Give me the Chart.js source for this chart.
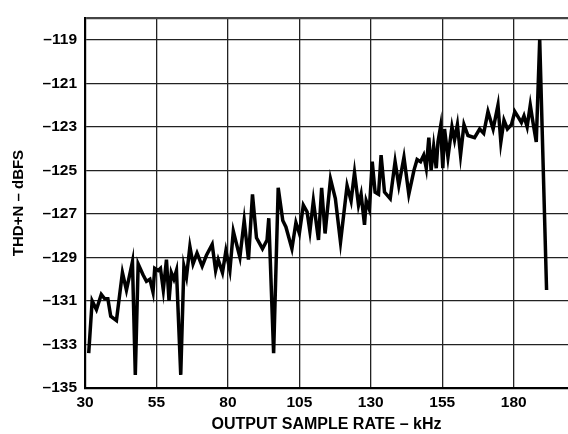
<!DOCTYPE html>
<html>
<head>
<meta charset="utf-8">
<script src="https://cdn.jsdelivr.net/npm/chart.js@4/dist/chart.umd.min.js"></script>
<style>
    body {margin: 0; background: #fff;}
    #box {width: 568px; height: 434px;}
</style>
</head>
<body>
<div id="box"><canvas id="thd_chart"></canvas></div>
<script>
//Output sample rate (kHz)
const rates = [
    31.3, 32.5, 34.0, 35.7, 36.9, 38.0, 39.0, 41.0, 43.1, 44.5,
    46.6, 47.6, 48.6, 50.3, 51.5, 52.7, 53.8, 54.4, 55.6, 56.4,
    57.4, 58.5, 59.4, 60.2, 61.1, 62.0, 63.5, 64.6, 65.5, 66.7,
    67.8, 69.2, 71.0, 72.5, 74.5, 75.7, 76.6, 78.1, 79.3, 80.7,
    81.9, 84.2, 85.7, 87.2, 88.6, 90.0, 92.1, 93.7, 94.3, 96.0,
    97.6, 99.2, 100.3, 102.4, 103.8, 105.0, 106.4, 107.7, 108.7, 109.9,
    111.7, 112.8, 114.0, 115.9, 117.6, 119.4, 121.7, 123.1, 124.3, 125.7,
    126.6, 127.8, 128.4, 129.5, 130.5, 131.5, 132.7, 133.6, 134.8, 136.8,
    138.5, 139.8, 141.6, 143.3, 145.1, 146.2, 147.4, 148.5, 149.4, 150.3,
    151.1, 152.0, 152.9, 153.5, 154.4, 155.2, 155.8, 157.0, 158.4, 159.3,
    160.3, 161.4, 162.6, 164.0, 166.3, 168.1, 169.5, 171.0, 172.8, 174.5,
    175.5, 176.6, 177.8, 179.2, 180.4, 181.8, 182.7, 183.6, 184.7, 185.8,
    186.5, 187.9, 189.1, 191.5
];
//THD+N (dBFS) at each rate
const thd = [
    -133.4, -131.0, -131.4, -130.7, -130.9, -130.9, -131.7, -131.9, -129.7, -130.5,
    -129.2, -134.4, -129.3, -129.8, -130.1, -130.0, -130.6, -129.5, -129.6, -129.5,
    -130.5, -129.1, -131.0, -129.7, -130.0, -129.6, -134.4, -129.4, -129.9, -128.5,
    -129.3, -128.8, -129.4, -128.9, -128.4, -129.6, -129.1, -129.7, -128.7, -129.6,
    -127.8, -129.0, -127.3, -129.1, -126.1, -128.1, -128.6, -128.2, -127.2, -133.4,
    -125.8, -127.3, -127.6, -128.6, -127.4, -127.9, -126.6, -126.9, -127.8, -126.4,
    -128.2, -125.8, -127.9, -125.4, -126.3, -128.3, -125.7, -126.4, -125.1, -126.6,
    -126.1, -127.5, -126.4, -126.8, -124.6, -126.0, -126.1, -124.3, -126.0, -126.3,
    -124.6, -125.7, -124.4, -126.1, -125.0, -124.5, -124.6, -124.3, -124.9, -123.5,
    -125.0, -123.9, -124.9, -123.7, -123.0, -124.9, -123.1, -124.4, -123.0, -123.6,
    -122.9, -124.3, -122.9, -123.4, -123.5, -123.1, -123.3, -122.3, -123.1, -122.0,
    -123.7, -122.7, -123.1, -122.9, -122.3, -122.6, -122.8, -122.5, -123.0, -122.0,
    -122.6, -123.7, -119.0, -130.5
];
//Tick labels on both axes
const xTicks = [30, 55, 80, 105, 130, 155, 180];
const yTicks = [-135, -133, -131, -129, -127, -125, -123, -121, -119];
const xMin = 30, xMax = 199;
const yMin = -135, yMax = -118;

const fontFamily = "'Liberation Sans', Arial, sans-serif";
const tickFont = {family: fontFamily, size: 15.5, weight: 'bold'};

const buildPoints = () => {
    /*
        Pairs every rate with its reading for the linear x scale
    */
    const points = [];
    for (let i = 0; i < rates.length; i++){
        points.push({x: rates[i], y: thd[i]});
    }
    return points;
}

const thdChart = new Chart("thd_chart", {
    type: 'line',
    data: {
        datasets: [{
            data: buildPoints(),
            borderColor: '#000',
            borderWidth: 3.5,
            pointRadius: 0,
            tension: 0,
            fill: false
        }]
    },
    options: {
        responsive: true,
        maintainAspectRatio: false,
        animation: false,
        layout: {padding: {top: 18, right: 0, bottom: 0, left: 0}},
        plugins: {
            legend: {display: false},
            tooltip: {enabled: false}
        },
        scales: {
            x: {
                type: 'linear',
                min: xMin,
                max: xMax,
                afterBuildTicks: (axis) => {
                    axis.ticks = xTicks.map((v) => ({value: v}));
                },
                afterFit: (axis) => {
                    axis.height = 46;   //keeps the plot bottom where the reference has it
                },
                ticks: {
                    color: '#000',
                    font: tickFont,
                    padding: 5,
                    maxRotation: 0,
                    autoSkip: false
                },
                grid: {color: '#222', lineWidth: 1.3, drawTicks: false},
                border: {color: '#000', width: 2.2},
                title: {
                    display: true,
                    text: 'OUTPUT SAMPLE RATE \u2013 kHz',
                    color: '#000',
                    font: {family: fontFamily, size: 16, weight: 'bold'},
                    padding: {top: 0, bottom: 0}
                }
            },
            y: {
                type: 'linear',
                min: yMin,
                max: yMax,
                afterBuildTicks: (axis) => {
                    //Top tick has no label, it only draws the frame line
                    axis.ticks = yTicks.concat([yMax]).map((v) => ({value: v}));
                },
                afterFit: (axis) => {
                    axis.width = 85;
                },
                ticks: {
                    color: '#000',
                    font: tickFont,
                    padding: 8,
                    autoSkip: false,
                    callback: (value) => {
                        if (value == yMax){
                            return '';
                        }
                        return '\u2013' + Math.abs(value);
                    }
                },
                grid: {
                    color: (ctx) => (ctx.tick && ctx.tick.value == yMax) ? '#444' : '#222',
                    lineWidth: (ctx) => (ctx.tick && ctx.tick.value == yMax) ? 2.2 : 1.3,
                    drawTicks: false
                },
                border: {color: '#000', width: 2.2},
                title: {
                    display: true,
                    text: 'THD+N \u2013 dBFS',
                    color: '#000',
                    font: {family: fontFamily, size: 15, weight: 'bold'},
                    padding: {top: 10, bottom: 0}
                }
            }
        }
    }
});
</script>
</body>
</html>
